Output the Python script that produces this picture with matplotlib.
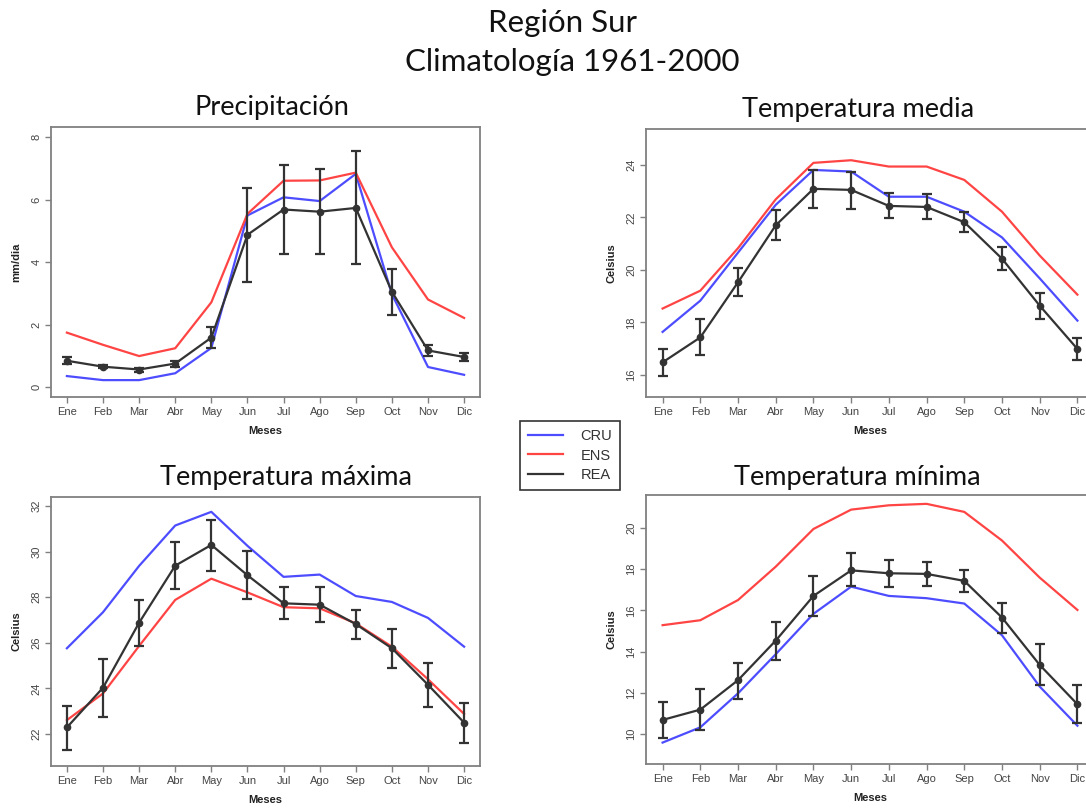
import matplotlib
matplotlib.use("Agg")
import matplotlib.pyplot as plt
import numpy as np

months = ["Ene", "Feb", "Mar", "Abr", "May", "Jun", "Jul", "Ago", "Sep", "Oct", "Nov", "Dic"]

# Precipitación (mm/dia)
pr_cru = [0.35, 0.22, 0.22, 0.44, 1.25, 5.49, 6.07, 5.95, 6.82, 2.97, 0.64, 0.39]
pr_ens = [1.74, 1.35, 0.99, 1.24, 2.71, 5.54, 6.60, 6.61, 6.86, 4.47, 2.80, 2.21]
pr_rea = [0.84, 0.65, 0.56, 0.75, 1.58, 4.87, 5.68, 5.61, 5.73, 3.05, 1.17, 0.96]
pr_hi = [0.96, 0.72, 0.61, 0.84, 1.91, 6.37, 7.12, 6.98, 7.54, 3.79, 1.33, 1.08]
pr_lo = [0.73, 0.60, 0.49, 0.65, 1.26, 3.36, 4.26, 4.26, 3.95, 2.30, 0.98, 0.83]

# Temperatura media (Celsius)
tm_cru = [17.64, 18.83, 20.66, 22.48, 23.81, 23.75, 22.79, 22.79, 22.22, 21.24, 19.68, 18.07]
tm_ens = [18.53, 19.21, 20.83, 22.69, 24.08, 24.18, 23.94, 23.94, 23.43, 22.22, 20.55, 19.06]
tm_rea = [16.48, 17.43, 19.53, 21.70, 23.09, 23.05, 22.44, 22.40, 21.82, 20.43, 18.64, 16.99]
tm_hi = [17.00, 18.12, 20.09, 22.29, 23.81, 23.75, 22.92, 22.91, 22.20, 20.89, 19.14, 17.40]
tm_lo = [15.97, 16.76, 19.00, 21.14, 22.36, 22.34, 21.99, 21.93, 21.45, 20.00, 18.15, 16.58]

# Temperatura máxima (Celsius)
tx_cru = [25.76, 27.34, 29.37, 31.14, 31.74, 30.25, 28.89, 28.99, 28.05, 27.79, 27.09, 25.83]
tx_ens = [22.61, 23.78, 25.86, 27.88, 28.81, 28.21, 27.56, 27.51, 26.85, 25.83, 24.40, 22.88]
tx_rea = [22.29, 24.03, 26.88, 29.38, 30.29, 28.96, 27.73, 27.67, 26.82, 25.76, 24.16, 22.50]
tx_hi = [23.24, 25.27, 27.89, 30.42, 31.40, 30.03, 28.45, 28.45, 27.44, 26.61, 25.11, 23.36]
tx_lo = [21.30, 22.76, 25.85, 28.35, 29.15, 27.91, 27.04, 26.90, 26.17, 24.88, 23.18, 21.62]

# Temperatura mínima (Celsius)
tn_cru = [9.58, 10.32, 11.97, 13.87, 15.83, 17.15, 16.70, 16.59, 16.33, 14.79, 12.30, 10.40]
tn_ens = [15.28, 15.52, 16.50, 18.12, 19.95, 20.89, 21.10, 21.17, 20.78, 19.39, 17.59, 16.02]
tn_rea = [10.68, 11.18, 12.61, 14.53, 16.70, 17.94, 17.80, 17.77, 17.43, 15.65, 13.35, 11.44]
tn_hi = [11.57, 12.20, 13.46, 15.45, 17.69, 18.77, 18.46, 18.33, 17.95, 16.34, 14.35, 12.36]
tn_lo = [9.79, 10.18, 11.70, 13.59, 15.71, 17.17, 17.15, 17.20, 16.89, 14.92, 12.36, 10.55]

series_names = ["CRU", "ENS", "REA"]

C_CRU = "#4d4dff"
C_ENS = "#ff4444"
C_REA = "#333333"
SPINE = "#808080"
TXT = "#444444"

W, H = 1086, 809
fig = plt.figure(figsize=(W / 100, H / 100), dpi=100)
fig.patch.set_facecolor("white")

TITLE_FONT = ["Lato", "DejaVu Sans"]
AX_FONT = ["Liberation Sans", "DejaVu Sans"]


def px_axes(l, r, t, b):
    return fig.add_axes([l / W, 1 - b / H, (r - l) / W, (b - t) / H])


panels = [
    dict(box=(51, 480, 127, 397), ylim=(-0.32, 8.32), yticks=[0, 2, 4, 6, 8],
         ylabel="mm/dia", title="Precipitación", title_xy=(272, 107),
         cru=pr_cru, ens=pr_ens, rea=pr_rea, hi=pr_hi, lo=pr_lo),
    dict(box=(646, 1094, 129, 397), ylim=(15.16, 25.37), yticks=[16, 18, 20, 22, 24],
         ylabel="Celsius", title="Temperatura media", title_xy=(858, 109),
         cru=tm_cru, ens=tm_ens, rea=tm_rea, hi=tm_hi, lo=tm_lo),
    dict(box=(51, 480, 497, 766), ylim=(20.6, 32.39), yticks=[22, 24, 26, 28, 30, 32],
         ylabel="Celsius", title="Temperatura máxima", title_xy=(286, 478),
         cru=tx_cru, ens=tx_ens, rea=tx_rea, hi=tx_hi, lo=tx_lo),
    dict(box=(646, 1094, 495, 764), ylim=(8.54, 21.6), yticks=[10, 12, 14, 16, 18, 20],
         ylabel="Celsius", title="Temperatura mínima", title_xy=(857, 478),
         cru=tn_cru, ens=tn_ens, rea=tn_rea, hi=tn_hi, lo=tn_lo),
]

x = np.arange(1, 13)
handles = None
for p in panels:
    ax = px_axes(*p["box"])
    rea = np.array(p["rea"])
    hi = np.array(p["hi"])
    lo = np.array(p["lo"])
    h1, = ax.plot(x, p["cru"], color=C_CRU, lw=1.6)
    h2, = ax.plot(x, p["ens"], color=C_ENS, lw=1.6)
    h3, = ax.plot(x, rea, color=C_REA, lw=1.6, marker="o", markersize=4.5)
    ax.errorbar(x, rea, yerr=[rea - lo, hi - rea], fmt="none", ecolor=C_REA,
                elinewidth=1.6, capsize=3.5, capthick=1.6)
    handles = [h1, h2, h3]
    ax.set_xlim(0.56, 12.44)
    ax.set_ylim(*p["ylim"])
    ax.set_xticks(x)
    ax.set_xticklabels(months, family=AX_FONT, fontsize=8, color=TXT)
    ax.set_yticks(p["yticks"])
    ax.set_yticklabels([str(v) for v in p["yticks"]], family=AX_FONT, fontsize=8,
                       color=TXT, rotation=90, va="center")
    ax.tick_params(axis="both", length=4, width=1, color=SPINE, pad=3)
    for s in ax.spines.values():
        s.set_color(SPINE)
        s.set_linewidth(1.3)
    ax.set_xlabel("Meses", family=AX_FONT, fontsize=8, fontweight="bold",
                  color="#222222", labelpad=7)
    ax.set_ylabel(p["ylabel"], family=AX_FONT, fontsize=8, fontweight="bold",
                  color="#222222", labelpad=7)
    tx, ty = p["title_xy"]
    fig.text(tx / W, 1 - ty / H, p["title"], ha="center", va="center",
             family=TITLE_FONT, fontsize=19.5, color="#111111")

fig.text(562 / W, 1 - 23 / H, "Región Sur", ha="center", va="center",
         family=TITLE_FONT, fontsize=22.5, color="#111111")
fig.text(572 / W, 1 - 62 / H, "Climatología 1961-2000", ha="center", va="center",
         family=TITLE_FONT, fontsize=22.5, color="#111111")

leg = fig.legend(handles, series_names, loc="center",
                 bbox_to_anchor=(570 / W, 1 - 455.5 / H),
                 prop={"family": AX_FONT, "size": 10.5}, frameon=True,
                 fancybox=False, edgecolor="black", handlelength=2.4,
                 handletextpad=1.2, labelspacing=0.4, borderpad=0.55)
leg.get_frame().set_linewidth(1.2)
for t in leg.get_texts():
    t.set_color("#333333")
for lh in leg.legend_handles:
    lh.set_marker("")

fig.savefig("out.png", dpi=100, facecolor="white")
